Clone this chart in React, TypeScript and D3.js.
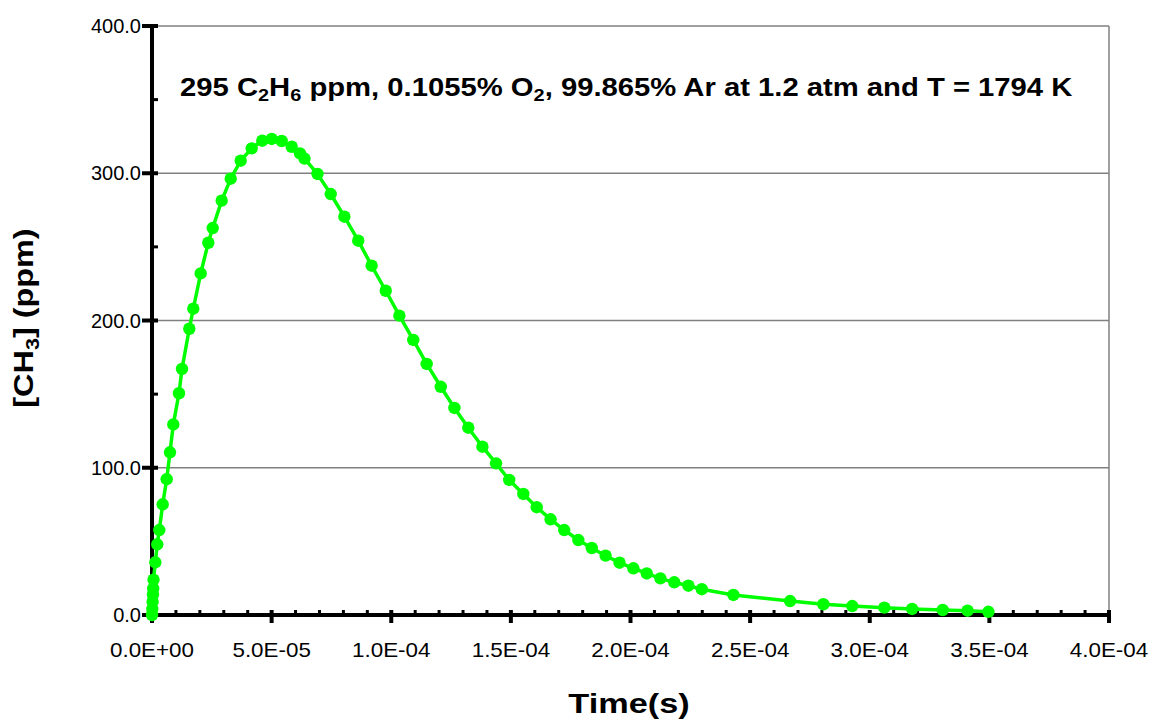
import React from "react";
import * as d3 from "d3";

const timeValues: number[] = [
  0, 0.013e-5, 0.025e-5, 0.04e-5, 0.05e-5, 0.063e-5, 0.138e-5, 0.22e-5, 0.305e-5, 0.447e-5,
  0.614e-5, 0.752e-5, 0.89e-5, 1.128e-5, 1.254e-5, 1.559e-5, 1.726e-5, 2.035e-5, 2.353e-5, 2.537e-5,
  2.913e-5, 3.29e-5, 3.707e-5, 4.167e-5, 4.61e-5, 5.003e-5, 5.421e-5, 5.839e-5, 6.186e-5, 6.374e-5,
  6.917e-5, 7.47e-5, 8.04e-5, 8.62e-5, 9.18e-5, 9.77e-5, 10.34e-5, 10.92e-5, 11.48e-5, 12.07e-5,
  12.64e-5, 13.22e-5, 13.81e-5, 14.38e-5, 14.93e-5, 15.52e-5, 16.08e-5, 16.66e-5, 17.23e-5, 17.82e-5,
  18.38e-5, 18.96e-5, 19.54e-5, 20.12e-5, 20.68e-5, 21.25e-5, 21.83e-5, 22.42e-5, 22.98e-5, 24.3e-5,
  26.67e-5, 28.06e-5, 29.27e-5, 30.61e-5, 31.77e-5, 33.05e-5, 34.09e-5, 34.96e-5,
];

const ch3Values: number[] = [
  0, 4, 9, 14, 18, 24, 35.8, 48, 57.7, 75.2,
  92.2, 110.5, 129.4, 150.6, 167.1, 194.4, 208, 232, 252.8, 262.8,
  281.4, 296.3, 308.5, 316.9, 322.1, 323.3, 321.9, 318, 313.5, 310,
  299.5, 285.9, 270.5, 254.2, 237.2, 220.2, 203.3, 186.8, 170.5, 155,
  140.6, 127.2, 114.3, 103, 91.7, 82.2, 73.2, 65, 57.7, 50.9,
  45.5, 40.3, 35.5, 31.7, 28.2, 24.9, 22.2, 19.9, 17.5, 13.6,
  9.5, 7.3, 6.1, 5.0, 4.1, 3.4, 2.9, 2.2,
];

const xTickValues: number[] = [0, 5e-5, 1e-4, 1.5e-4, 2e-4, 2.5e-4, 3e-4, 3.5e-4, 4e-4];
const xTickLabels: string[] = ["0.0E+00", "5.0E-05", "1.0E-04", "1.5E-04", "2.0E-04", "2.5E-04", "3.0E-04", "3.5E-04", "4.0E-04"];
const yTickValues: number[] = [0, 100, 200, 300, 400];
const yTickLabels: string[] = ["0.0", "100.0", "200.0", "300.0", "400.0"];

const W = 1155;
const H = 719;
const left = 152;
const right = 1109;
const top = 26;
const bottom = 615;
const SX = 1.17;

export default function App() {
  const x = d3.scaleLinear().domain([0, 4e-4]).range([left, right]);
  const y = d3.scaleLinear().domain([0, 400]).range([bottom, top]);
  const data = timeValues.map((t, i) => ({ t, v: ch3Values[i] }));
  const line = d3
    .line<{ t: number; v: number }>()
    .x((d) => x(d.t))
    .y((d) => y(d.v));

  const xMinor = d3.range(0, 41).map((i) => i * 1e-5).filter((_, i) => i % 5 !== 0);
  const yMinor = [50, 150, 250, 350];
  const font = "'Liberation Sans', Arial, sans-serif";

  return (
    <svg
      width={W}
      height={H}
      style={{ position: "absolute", left: 0, top: 0, background: "#fff" }}
      fontFamily={font}
    >
      {/* gridlines */}
      {yTickValues.slice(1).map((v) => (
        <line key={"g" + v} x1={left} x2={right} y1={y(v)} y2={y(v)} stroke="#808080" strokeWidth={1.5} />
      ))}
      <line x1={right} x2={right} y1={top} y2={bottom} stroke="#808080" strokeWidth={1.5} />

      {/* axes */}
      <line x1={left} x2={left} y1={top - 1} y2={bottom + 2} stroke="#000" strokeWidth={4} />
      <line x1={left - 2} x2={right + 1} y1={bottom} y2={bottom} stroke="#000" strokeWidth={4} />

      {yTickValues.map((v) => (
        <line key={"yt" + v} x1={left - 10} x2={left + 6} y1={y(v)} y2={y(v)} stroke="#000" strokeWidth={4} />
      ))}
      {yMinor.map((v) => (
        <line key={"ym" + v} x1={left} x2={left + 6} y1={y(v)} y2={y(v)} stroke="#000" strokeWidth={3} />
      ))}
      {xTickValues.map((t) => (
        <line key={"xt" + t} x1={x(t)} x2={x(t)} y1={bottom - 5} y2={bottom + 8} stroke="#000" strokeWidth={4} />
      ))}
      {xMinor.map((t) => (
        <line key={"xm" + t} x1={x(t)} x2={x(t)} y1={bottom - 5} y2={bottom} stroke="#000" strokeWidth={3} />
      ))}

      {/* tick labels */}
      {yTickValues.map((v, i) => (
        <g key={"yl" + v} transform={`translate(${left - 11}, ${y(v)})`}>
          <text dy="0.35em" textAnchor="end" fontSize={20}>
            {yTickLabels[i]}
          </text>
        </g>
      ))}
      {xTickValues.map((t, i) => (
        <g key={"xl" + t} transform={`translate(${x(t)}, ${bottom + 42}) scale(1.12, 1)`}>
          <text textAnchor="middle" fontSize={20}>
            {xTickLabels[i]}
          </text>
        </g>
      ))}

      {/* axis titles */}
      <g transform={`translate(629, 713) scale(1.27, 1)`}>
        <text textAnchor="middle" fontSize={27} fontWeight="bold">
          Time(s)
        </text>
      </g>
      <g transform={`translate(33, 318) rotate(-90) scale(1.2, 1)`}>
        <text textAnchor="middle" fontSize={27} fontWeight="bold">
          [CH<tspan fontSize={18} dy={6}>3</tspan>
          <tspan dy={-6}>] (ppm)</tspan>
        </text>
      </g>

      {/* annotation */}
      <g transform={`translate(180, 96) scale(${SX}, 1)`}>
        <text x={0} y={0} fontSize={25} fontWeight="bold">
          295 C<tspan fontSize={17} dy={5}>2</tspan>
          <tspan dy={-5}>H</tspan>
          <tspan fontSize={17} dy={5}>6</tspan>
          <tspan dy={-5}> ppm, 0.1055% O</tspan>
          <tspan fontSize={17} dy={5}>2</tspan>
          <tspan dy={-5}>, 99.865% Ar at 1.2 atm and T = 1794 K</tspan>
        </text>
      </g>

      {/* series */}
      <path d={line(data) || ""} fill="none" stroke="#00ff00" strokeWidth={3.5} />
      {data.map((d, i) => (
        <circle key={"p" + i} cx={x(d.t)} cy={y(d.v)} r={6.2} fill="#00ff00" />
      ))}
    </svg>
  );
}
